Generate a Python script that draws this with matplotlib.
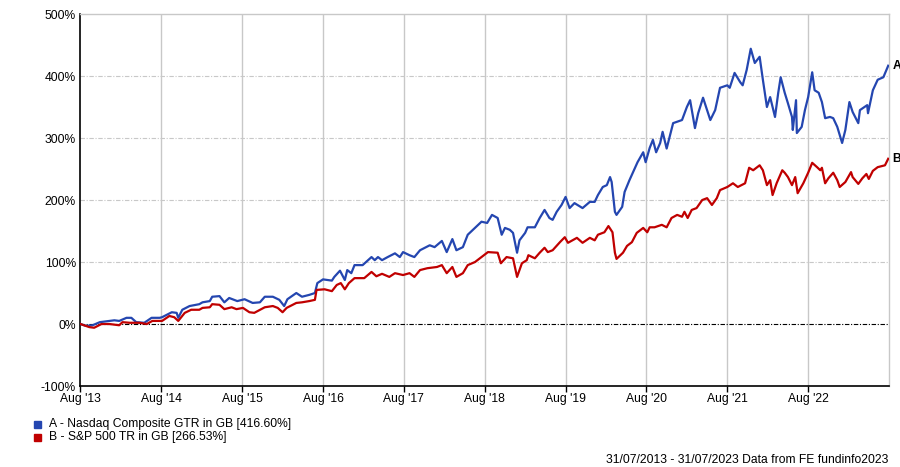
import numpy as np
import matplotlib
matplotlib.use("Agg")
import matplotlib.pyplot as plt

plt.rcParams['font.family'] = ['Liberation Sans', 'DejaVu Sans']

# decimal years, cumulative % growth
nasdaq_t = [2013.58, 2013.65, 2013.73, 2013.82, 2013.94, 2014.00, 2014.06, 2014.15, 2014.21, 2014.27,
            2014.37, 2014.46, 2014.56, 2014.59, 2014.71, 2014.77, 2014.79, 2014.84, 2014.93, 2015.05,
            2015.09, 2015.18, 2015.21, 2015.30, 2015.36, 2015.42, 2015.52, 2015.61, 2015.71, 2015.80,
            2015.86, 2015.96, 2016.04, 2016.10, 2016.14, 2016.25, 2016.32, 2016.41, 2016.48, 2016.51,
            2016.58, 2016.69, 2016.72, 2016.79, 2016.85, 2016.88, 2016.93, 2016.97, 2017.07, 2017.18,
            2017.22, 2017.26, 2017.31, 2017.38, 2017.47, 2017.53, 2017.57, 2017.65, 2017.71, 2017.78,
            2017.84, 2017.90, 2017.96, 2018.05, 2018.11, 2018.18, 2018.23, 2018.31, 2018.37, 2018.46,
            2018.54, 2018.61, 2018.67, 2018.74, 2018.79, 2018.83, 2018.89, 2018.93, 2018.98, 2019.01,
            2019.08, 2019.11, 2019.20, 2019.26, 2019.32, 2019.38, 2019.42, 2019.47, 2019.53, 2019.58,
            2019.63, 2019.69, 2019.79, 2019.88, 2019.94, 2019.98, 2020.04, 2020.09, 2020.13, 2020.15,
            2020.19, 2020.21, 2020.28, 2020.31, 2020.37, 2020.44, 2020.47, 2020.54, 2020.57, 2020.62,
            2020.66, 2020.70, 2020.75, 2020.78, 2020.83, 2020.91, 2021.02, 2021.08, 2021.12, 2021.18,
            2021.22, 2021.28, 2021.37, 2021.43, 2021.49, 2021.58, 2021.61, 2021.67, 2021.74, 2021.77,
            2021.82, 2021.87, 2021.92, 2021.98, 2022.02, 2022.07, 2022.11, 2022.17, 2022.21, 2022.24,
            2022.29, 2022.33, 2022.38, 2022.39, 2022.43, 2022.44, 2022.50, 2022.54, 2022.58, 2022.63,
            2022.66, 2022.71, 2022.75, 2022.79, 2022.85, 2022.89, 2022.94, 2023.00, 2023.04, 2023.09,
            2023.13, 2023.20, 2023.22, 2023.31, 2023.32, 2023.38, 2023.44, 2023.51, 2023.57]
nasdaq_v = [0, -3, -2, 3, 5, 6, 5, 10, 10, 3,
            2, 10, 10, 11, 19, 18, 10, 23, 29, 32,
            35, 37, 44, 45, 35, 42, 37, 40, 34, 35,
            44, 44, 39, 29, 40, 50, 44, 47, 50, 66,
            72, 70, 76, 86, 71, 87, 82, 95, 95, 108,
            103, 108, 103, 108, 114, 108, 116, 111, 108, 119,
            123, 127, 124, 134, 116, 137, 119, 124, 144, 155,
            165, 163, 176, 171, 144, 155, 152, 147, 115, 135,
            147, 156, 156, 171, 184, 171, 168, 181, 192, 205,
            187, 195, 187, 197, 197, 208, 221, 224, 237, 229,
            181, 176, 189, 213, 232, 252, 261, 277, 261, 284,
            297, 277, 292, 310, 283, 324, 329, 350, 361, 316,
            340, 365, 329, 345, 381, 385, 381, 405, 390, 385,
            410, 444, 421, 431, 394, 350, 366, 334, 373, 398,
            373, 356, 334, 313, 361, 308, 318, 345, 366, 406,
            377, 373, 358, 332, 334, 332, 318, 292, 313, 358,
            342, 324, 345, 353, 340, 377, 394, 398, 416.6]

sp500_t = [2013.58, 2013.69, 2013.75, 2013.84, 2013.94, 2014.06, 2014.10, 2014.19, 2014.31, 2014.40,
           2014.47, 2014.59, 2014.68, 2014.74, 2014.79, 2014.87, 2014.95, 2015.05, 2015.09, 2015.18,
           2015.21, 2015.30, 2015.36, 2015.45, 2015.51, 2015.59, 2015.67, 2015.73, 2015.86, 2015.96,
           2016.02, 2016.08, 2016.13, 2016.25, 2016.32, 2016.41, 2016.48, 2016.50, 2016.60, 2016.69,
           2016.75, 2016.80, 2016.85, 2016.90, 2016.97, 2017.09, 2017.18, 2017.24, 2017.31, 2017.40,
           2017.47, 2017.57, 2017.65, 2017.71, 2017.78, 2017.87, 2017.99, 2018.05, 2018.11, 2018.18,
           2018.23, 2018.31, 2018.37, 2018.46, 2018.54, 2018.62, 2018.74, 2018.78, 2018.85, 2018.93,
           2018.98, 2019.04, 2019.10, 2019.12, 2019.20, 2019.26, 2019.32, 2019.36, 2019.42, 2019.51,
           2019.57, 2019.61, 2019.72, 2019.79, 2019.88, 2019.94, 2019.98, 2020.06, 2020.11, 2020.16,
           2020.19, 2020.21, 2020.29, 2020.34, 2020.40, 2020.46, 2020.54, 2020.59, 2020.62, 2020.68,
           2020.77, 2020.83, 2020.89, 2020.96, 2021.02, 2021.05, 2021.09, 2021.14, 2021.20, 2021.27,
           2021.33, 2021.39, 2021.45, 2021.49, 2021.58, 2021.65, 2021.71, 2021.80, 2021.85, 2021.90,
           2021.98, 2022.02, 2022.07, 2022.11, 2022.14, 2022.19, 2022.26, 2022.29, 2022.33, 2022.38,
           2022.42, 2022.45, 2022.52, 2022.58, 2022.63, 2022.69, 2022.73, 2022.75, 2022.79, 2022.83,
           2022.89, 2022.94, 2022.97, 2023.04, 2023.11, 2023.13, 2023.20, 2023.25, 2023.30, 2023.33,
           2023.38, 2023.44, 2023.53, 2023.57]
sp500_v = [0, -5, -6, 0, 0, -2, 3, 2, 2, 0,
           5, 5, 13, 11, 5, 18, 23, 23, 26, 27,
           32, 31, 24, 27, 24, 26, 19, 18, 27, 29,
           26, 19, 26, 34, 35, 37, 39, 55, 56, 53,
           63, 66, 56, 66, 74, 74, 84, 77, 81, 76,
           82, 79, 82, 76, 87, 90, 92, 95, 82, 92,
           76, 82, 95, 100, 108, 116, 115, 98, 108, 106,
           76, 98, 103, 111, 106, 115, 123, 116, 119, 132,
           140, 131, 139, 131, 139, 135, 144, 148, 158, 148,
           115, 105, 115, 126, 132, 147, 155, 148, 156, 156,
           160, 156, 171, 176, 173, 181, 171, 184, 187, 200,
           203, 192, 203, 216, 221, 227, 221, 227, 252, 248,
           256, 248, 224, 232, 208, 227, 248, 244, 237, 224,
           237, 211, 227, 244, 260, 253, 248, 252, 227, 235,
           244, 232, 221, 229, 245, 237, 226, 235, 242, 234,
           247, 253, 256, 266.53]

tick_years = [2013, 2014, 2015, 2016, 2017, 2018, 2019, 2020, 2021, 2022]
y_ticks = [-100, 0, 100, 200, 300, 400, 500]

blue = '#2446b0'
red = '#c00000'
fs = 8.75

fig = plt.figure(figsize=(9, 4.67), dpi=100)
ax = fig.add_axes([0.0889, 0.1734, 0.8989, 0.7966])

ax.plot(nasdaq_t, nasdaq_v, color=blue, lw=1.6, zorder=3)
ax.plot(sp500_t, sp500_v, color=red, lw=1.6, zorder=3)

ax.set_xlim(2013.575, 2023.58)
ax.set_ylim(-100, 500)

xt = [y + 0.58 for y in tick_years]
ax.set_xticks(xt)
ax.set_xticklabels(["Aug '%02d" % (y % 100) for y in tick_years], fontsize=fs)
ax.set_yticks(y_ticks)
ax.set_yticklabels(['%d%%' % v for v in y_ticks], fontsize=fs)
ax.tick_params(axis='x', length=4, width=1, color='black', pad=1)
ax.tick_params(axis='y', length=0, pad=3)

for x in xt[1:]:
    ax.axvline(x, color='#c8c8c8', lw=1, zorder=1)
for v in [100, 200, 300, 400]:
    ax.axhline(v, color='#c8c8c8', lw=0.8, ls=(0, (4, 1.5, 1, 1.5)), zorder=1)
ax.axhline(0, color='black', lw=0.8, ls=(0, (4, 1.5, 1, 1.5)), zorder=2)

for s in ['top', 'right']:
    ax.spines[s].set_color('#c8c8c8')
    ax.spines[s].set_linewidth(1)
for s in ['left', 'bottom']:
    ax.spines[s].set_color('black')
    ax.spines[s].set_linewidth(1.2)

ax.text(2023.62, nasdaq_v[-1], 'A', fontsize=fs, fontweight='bold', va='center', ha='left',
        clip_on=False)
ax.text(2023.62, sp500_v[-1], 'B', fontsize=fs, fontweight='bold', va='center', ha='left',
        clip_on=False)

# legend
fig.patches.append(plt.Rectangle((34 / 900, 1 - 428 / 467), 7 / 900, 7 / 467,
                                 color=blue, transform=fig.transFigure))
fig.patches.append(plt.Rectangle((34 / 900, 1 - 441 / 467), 7 / 900, 7 / 467,
                                 color=red, transform=fig.transFigure))
fig.text(49 / 900, 1 - 424 / 467, 'A - Nasdaq Composite GTR in GB [416.60%]', fontsize=fs,
         va='center', ha='left')
fig.text(49 / 900, 1 - 437 / 467, 'B - S&P 500 TR in GB [266.53%]', fontsize=fs,
         va='center', ha='left')
fig.text(888 / 900, 1 - 460 / 467, '31/07/2013 - 31/07/2023 Data from FE fundinfo2023',
         fontsize=fs, va='center', ha='right')

fig.savefig('out.png', dpi=100)
